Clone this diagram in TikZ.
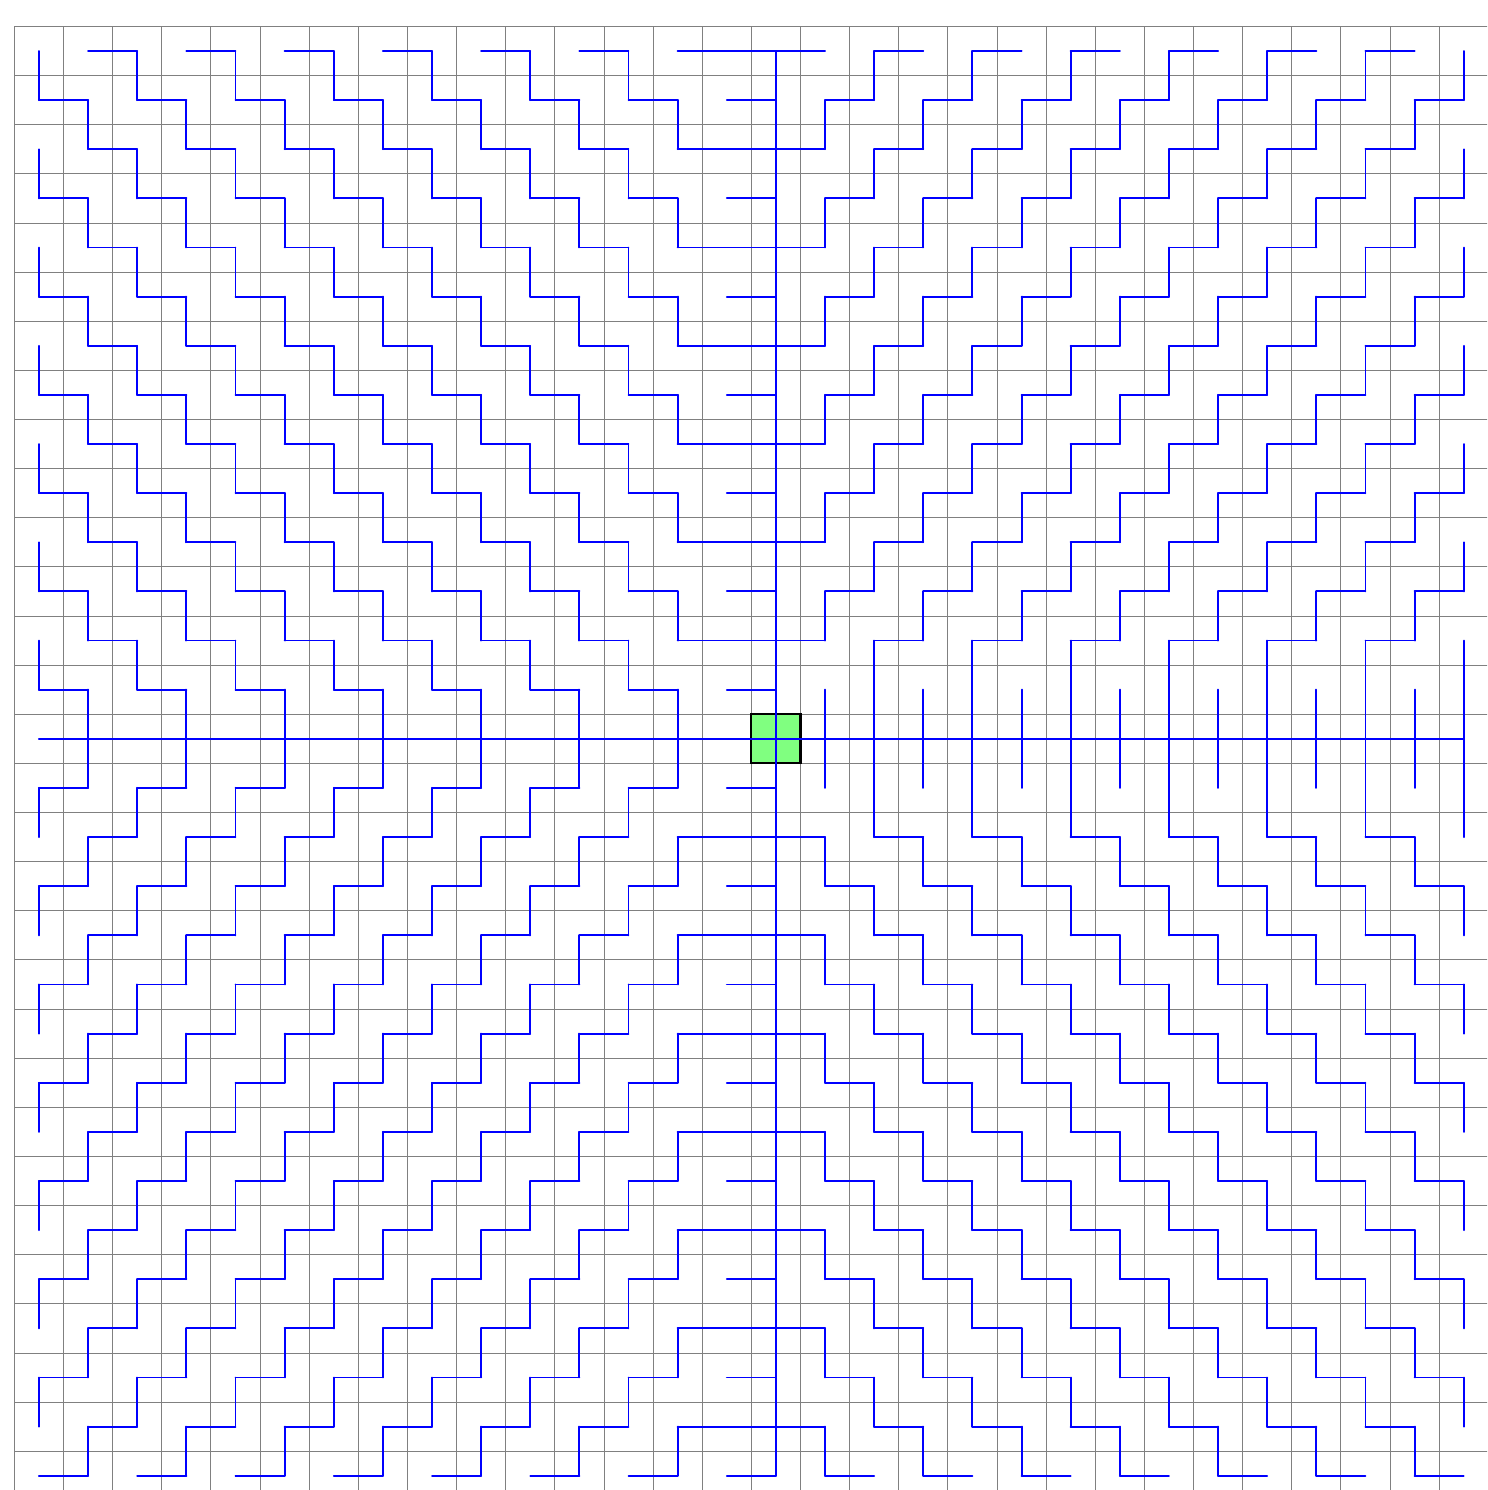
\documentclass[tikz,border=0pt]{standalone}
\begin{document}
\begin{tikzpicture}[
  gridline/.style={gray, line width=0.5pt},
  treeedge/.style={blue, line width=1.1pt, line cap=round},
  origincell/.style={draw=black, fill=green!50, line width=1.2pt, minimum size=1cm, inner sep=0pt, outer sep=0pt}
]
\useasboundingbox (-15.793,-15.290) rectangle (14.474,15.038);
\clip (-15.793,-15.290) rectangle (14.474,15.038);
% grid
\foreach \i in {-15.5,-14.5,...,14.6}
  \draw[gridline] (\i,-16) -- (\i,14.5);
\foreach \j in {-15.5,-14.5,...,14.6}
  \draw[gridline] (-15.5,\j) -- (15,\j);
% start cell
\node[origincell] (start) at (0,0) {};
% cell centres
\foreach \x in {-15,...,14}{
  \foreach \y in {-15,...,14}{
    \coordinate (c\x_\y) at (\x,\y);
  }
}
% tree edges: each cell to its parent
\foreach \x in {-15,...,14}{
  \foreach \y in {-15,...,14}{
    \pgfmathtruncatemacro\s{mod(abs(\x+\y),2)}
    \pgfmathtruncatemacro\hv{ifthenelse(\y==0,1,ifthenelse(\x==0,0,ifthenelse(\x<0,ifthenelse(or(\x==-1,\s==0),1,0),ifthenelse(or(and(abs(\y)==1,mod(\x,2)==0),\s==0),0,1))))}
    \pgfmathtruncatemacro\px{\x-\hv*sign(\x)}
    \pgfmathtruncatemacro\py{\y-(1-\hv)*sign(\y)}
    \ifnum\numexpr\x*\x+\y*\y\relax>0
      \draw[treeedge] (c\x_\y) -- (c\px_\py);
    \fi
  }
}
\end{tikzpicture}
\end{document}
